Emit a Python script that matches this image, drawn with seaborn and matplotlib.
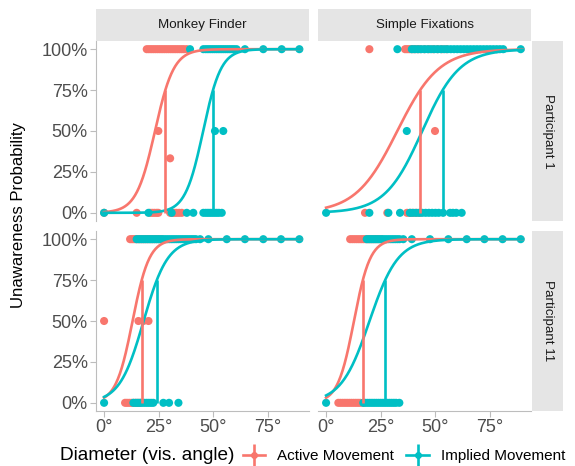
import numpy as np
import pandas as pd
import matplotlib
matplotlib.use('Agg')
import matplotlib.pyplot as plt
import seaborn as sns
from matplotlib.lines import Line2D
from matplotlib.legend_handler import HandlerTuple

tasks = ['Monkey Finder', 'Simple Fixations']
participants = ['Participant 1', 'Participant 11']
conditions = ['Active Movement', 'Implied Movement']
palette = {'Active Movement': '#F8766D', 'Implied Movement': '#00BFC4'}

# diameters (deg) where the stimulus was never / always / partly noticed
# Monkey Finder, Participant 1
mf1_active_full = [19.5, 20.5, 21.5, 22.5, 23.5, 24.5, 25.5, 26.5, 27.5, 28.5, 29.5,
                   30.5, 31.5, 32.5, 33.5, 34.5, 35.5, 36.5, 37.8]
mf1_active_none = [0, 14.9, 21, 22, 23, 24, 24.8, 30.2, 31.2, 32.2, 33.2, 34.3, 35.5]
mf1_active_part_x = [24.8, 30.2]
mf1_active_part_y = [0.5, 0.333]
mf1_implied_full = [39.3, 45.4, 46.5, 47.5, 48.5, 49.5, 50.5, 51.5, 52.5, 53.5, 54.5,
                    55.5, 56.5, 57.5, 58.5, 59.5, 60.6, 64.4, 72.8, 81.2, 89.3]
mf1_implied_none = [0, 20.3, 30.9, 37.8, 40.8, 45.4, 46.5, 47.5, 48.5, 49.5, 50.5,
                    51.5, 52.5, 53.8]
mf1_implied_part_x = [50.7, 54.5]
mf1_implied_part_y = [0.5, 0.5]

# Simple Fixations, Participant 1
sf1_active_full = [19.8, 36.1, 37, 38, 39, 40, 41, 42, 43, 45, 47, 49, 51, 53, 55]
sf1_active_none = [17.8, 28, 37, 38.5, 40, 41.5, 43]
sf1_active_part_x = [49.8]
sf1_active_part_y = [0.5]
sf1_implied_full = [32.6, 39.2, 40.5, 42, 43.5, 45, 46.5, 48, 49.5, 51, 52.5, 54, 55.5,
                    57, 58.5, 60, 61.5, 63, 64.5, 66, 67.5, 69, 70.5, 72, 73.5, 75,
                    76.5, 78, 79.5, 81, 89]
sf1_implied_none = [0, 19.8, 28.5, 33.8, 38.3, 39.5, 41, 42.5, 44, 45.5, 47, 48.5, 50,
                    51.5, 53.5, 56.7, 58, 59.5, 62]
sf1_implied_part_x = [36.9]
sf1_implied_part_y = [0.5]

# Monkey Finder, Participant 11
mf11_active_full = [11.9, 12.8, 13.7, 14.6, 15.5, 16.4, 17.3, 18.2, 19.1, 20, 21, 22,
                    23, 24, 25, 26.4]
mf11_active_none = [9.6, 10.5, 11.5, 12.5, 13.5, 14.5, 15.5, 16.5]
mf11_active_part_x = [0, 15.7, 18, 20.3]
mf11_active_part_y = [0.5, 0.5, 0.5, 0.5]
mf11_implied_full = [14.9, 16, 17, 18, 19, 20, 21, 22, 23, 24, 25, 26, 27, 28, 29, 30,
                     31, 32, 33, 34, 35, 36, 37, 38, 39, 40, 41, 42, 43.9, 47.7, 56.1,
                     64.4, 72.8, 80.9, 89.3]
mf11_implied_none = [0, 13.4, 14.5, 15.5, 16.5, 17.5, 18.5, 19.5, 20.5, 21.5, 22.5,
                     27.1, 29.7, 34]
mf11_implied_part_x = []
mf11_implied_part_y = []

# Simple Fixations, Participant 11
sf11_active_full = [11, 12, 13, 14, 15, 16, 17, 18, 19, 20, 21, 22, 23, 24, 25.4]
sf11_active_none = [5.6, 6.6, 7.6, 8.6, 9.6, 10.6, 11.6, 12.6, 13.6, 14.6, 15.6, 17]
sf11_active_part_x = []
sf11_active_part_y = []
sf11_implied_full = [18.6, 19.6, 20.6, 21.6, 22.6, 23.6, 24.6, 25.6, 26.6, 27.6, 28.6,
                     29.6, 30.6, 31.6, 32.6, 33.6, 35.3, 39.2, 47.5, 55.9, 64.3, 72.4,
                     80.7, 89]
sf11_implied_none = [0, 17, 18, 19, 20, 21, 22, 23, 24, 25, 26, 27, 28, 29, 30, 31, 32,
                     33.5]
sf11_implied_part_x = []
sf11_implied_part_y = []

# fitted psychometric curves: 75% threshold and logistic scale
# order: (MF, P1), (SF, P1), (MF, P11), (SF, P11)
thr75_active = [28.0, 43.0, 17.2, 16.8]
thr75_implied = [49.8, 53.3, 24.1, 27.0]
scale_active = [4.3, 9.5, 3.8, 3.7]
scale_implied = [4.1, 8.5, 5.5, 6.5]

panel_keys = [('Monkey Finder', 'Participant 1', 'mf1'),
              ('Simple Fixations', 'Participant 1', 'sf1'),
              ('Monkey Finder', 'Participant 11', 'mf11'),
              ('Simple Fixations', 'Participant 11', 'sf11')]

rows = []
for task, part, key in panel_keys:
    for cond, tag in [('Active Movement', 'active'), ('Implied Movement', 'implied')]:
        g = globals()
        for x in g[f'{key}_{tag}_full']:
            rows.append((task, part, cond, x, 1.0))
        for x in g[f'{key}_{tag}_none']:
            rows.append((task, part, cond, x, 0.0))
        for x, y in zip(g[f'{key}_{tag}_part_x'], g[f'{key}_{tag}_part_y']):
            rows.append((task, part, cond, x, y))
points = pd.DataFrame(rows, columns=['task', 'participant', 'condition', 'diameter', 'unaware'])

fits = pd.DataFrame({
    'task': [k[0] for k in panel_keys] * 2,
    'participant': [k[1] for k in panel_keys] * 2,
    'condition': ['Active Movement'] * 4 + ['Implied Movement'] * 4,
    'thr75': thr75_active + thr75_implied,
    'scale': scale_active + scale_implied,
})

W, H = 575, 466
fig = plt.figure(figsize=(W / 100, H / 100), dpi=100)
plt.rcParams['font.family'] = ['Liberation Sans', 'DejaVu Sans']

col_x = [96, 318]
row_y = [41, 231]
pw, ph = 213, 180
grid = np.linspace(0, 90, 300)
axis_col = '#bdbdbd'

for ri, part in enumerate(participants):
    for ci, task in enumerate(tasks):
        ax = fig.add_axes([col_x[ci] / W, 1 - (row_y[ri] + ph) / H, pw / W, ph / H])
        sub = points[(points.task == task) & (points.participant == part)]
        sns.scatterplot(data=sub, x='diameter', y='unaware', hue='condition',
                        hue_order=conditions, palette=palette, s=34, linewidth=0,
                        legend=False, ax=ax, zorder=2)
        fsub = fits[(fits.task == task) & (fits.participant == part)]
        for _, f in fsub.iterrows():
            x50 = f.thr75 - f.scale * np.log(3)
            curve = 1 / (1 + np.exp(-(grid - x50) / f.scale))
            sns.lineplot(x=grid, y=curve, color=palette[f.condition], lw=1.9, ax=ax,
                         zorder=3)
        for _, f in fsub.iterrows():
            ax.plot([f.thr75, f.thr75], [0, 0.75], color=palette[f.condition], lw=1.9,
                    zorder=4, solid_capstyle='butt')
        ax.set_xlim(-3.7, 93.7)
        ax.set_ylim(-0.05, 1.05)
        ax.set_xticks([0, 25, 50, 75])
        ax.set_yticks([0, 0.25, 0.5, 0.75, 1])
        ax.set_xlabel('')
        ax.set_ylabel('')
        for s in ax.spines.values():
            s.set_visible(False)
        ax.tick_params(color=axis_col, length=4, width=0.8, labelcolor='#4d4d4d',
                       labelsize=13, pad=2)
        if ci == 0:
            ax.spines['left'].set_visible(True)
            ax.spines['left'].set_color(axis_col)
            ax.set_yticklabels(['0%', '25%', '50%', '75%', '100%'])
        else:
            ax.tick_params(left=False, labelleft=False)
        if ri == 1:
            ax.spines['bottom'].set_visible(True)
            ax.spines['bottom'].set_color(axis_col)
            ax.set_xticklabels(['0°', '25°', '50°', '75°'])
        else:
            ax.tick_params(bottom=False, labelbottom=False)

# facet strips
for ci, task in enumerate(tasks):
    sax = fig.add_axes([col_x[ci] / W, 1 - 41 / H, pw / W, 32 / H])
    sax.set_facecolor('#e5e5e5')
    sax.set_xticks([])
    sax.set_yticks([])
    for s in sax.spines.values():
        s.set_visible(False)
    sax.text(0.5, 0.5, task, ha='center', va='center', fontsize=9.6, color='#1a1a1a',
             transform=sax.transAxes)
for ri, part in enumerate(participants):
    sax = fig.add_axes([532 / W, 1 - (row_y[ri] + ph) / H, 31 / W, ph / H])
    sax.set_facecolor('#e5e5e5')
    sax.set_xticks([])
    sax.set_yticks([])
    for s in sax.spines.values():
        s.set_visible(False)
    sax.text(0.5, 0.5, part, ha='center', va='center', rotation=270, fontsize=9.6,
             color='#1a1a1a', transform=sax.transAxes)

fig.text(19 / W, 1 - 215 / H, 'Unawareness Probability', rotation=90, ha='center',
         va='center', fontsize=12.1)
fig.text(60 / W, 1 - 456 / H, 'Diameter (vis. angle)', ha='left', va='center',
         fontsize=13.7)

handles = []
for cond in conditions:
    c = palette[cond]
    handles.append((Line2D([], [], color=c, lw=1.9, marker='o', ms=4),
                    Line2D([], [], color=c, marker='|', ms=16, mew=1.9, ls='')))
fig.legend(handles, conditions, handler_map={tuple: HandlerTuple(ndivide=1)},
           loc='center left', bbox_to_anchor=(243 / W, 1 - 456 / H), ncol=2,
           frameon=False, fontsize=11, handlelength=1.45, handletextpad=0.8,
           columnspacing=0.8, borderaxespad=0, borderpad=0)

fig.savefig('out.png', dpi=100)
